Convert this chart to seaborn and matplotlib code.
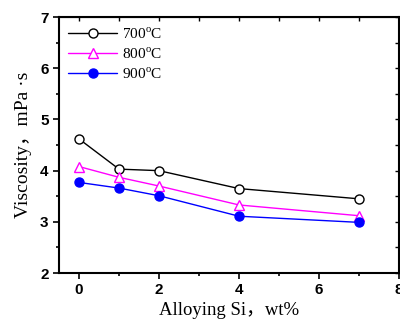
import matplotlib
matplotlib.use("Agg")
import matplotlib.pyplot as plt
import seaborn as sns
import pandas as pd
from matplotlib.ticker import MultipleLocator

si = [0, 1, 2, 4, 7]
v700 = [4.62, 4.03, 4.00, 3.65, 3.45]
v800 = [4.08, 3.87, 3.70, 3.33, 3.12]
v900 = [3.77, 3.66, 3.51, 3.11, 2.99]
labels = ["700$^{\\rm o}$C", "800$^{\\rm o}$C", "900$^{\\rm o}$C"]

sns.set_style("ticks")
plt.rcParams['font.family'] = ['Liberation Serif', 'Noto Sans CJK SC']
plt.rcParams['mathtext.fontset'] = 'custom'
plt.rcParams['mathtext.rm'] = 'Liberation Serif'
plt.rcParams['text.color'] = 'black'
plt.rcParams['axes.labelcolor'] = 'black'
plt.rcParams['xtick.color'] = 'black'
plt.rcParams['ytick.color'] = 'black'
plt.rcParams['axes.edgecolor'] = 'black'

fig = plt.figure(figsize=(4, 3.22), dpi=100)
ax = fig.add_axes([0.1475, 0.152, 0.85, 0.795])

styles = [
    dict(color="black", marker="o", mfc="white", mec="black"),
    dict(color="#ff00ff", marker="^", mfc="white", mec="#ff00ff"),
    dict(color="blue", marker="o", mfc="blue", mec="blue"),
]
for vals, lab, st in zip([v700, v800, v900], labels, styles):
    df = pd.DataFrame({"x": si, "y": vals})
    sns.lineplot(data=df, x="x", y="y", ax=ax, label=lab, color=st["color"],
                 marker=st["marker"], markerfacecolor=st["mfc"],
                 markeredgecolor=st["mec"], markersize=6.5, markeredgewidth=1.0,
                 linewidth=1.0)

ax.set_xlim(-0.5, 8)
ax.set_ylim(2, 7)
ax.xaxis.set_major_locator(MultipleLocator(2))
ax.xaxis.set_minor_locator(MultipleLocator(1))
ax.yaxis.set_major_locator(MultipleLocator(1))
ax.yaxis.set_minor_locator(MultipleLocator(0.5))
ax.tick_params(which="both", direction="out", width=1.2, top=False, right=False)
ax.tick_params(which="major", length=4)
ax.tick_params(which="minor", length=2.5)
for lbl in ax.get_xticklabels() + ax.get_yticklabels():
    lbl.set_fontfamily("Liberation Sans")
    lbl.set_fontweight("bold")
    lbl.set_fontsize(11)
for s in ax.spines.values():
    s.set_linewidth(1.5)

ax2 = ax.secondary_xaxis("top")
ax2.xaxis.set_major_locator(MultipleLocator(1))
ax2.tick_params(direction="in", length=3, labeltop=False, width=1)
ay2 = ax.secondary_yaxis("right")
ay2.yaxis.set_major_locator(MultipleLocator(0.5))
ay2.tick_params(direction="in", length=3, labelright=False, width=1)

ax.set_xlabel("Alloying Si，wt%", fontsize=13.5, labelpad=3)
ax.set_ylabel("Viscosity，mPa ·s", fontsize=14, labelpad=6)

leg = ax.legend(loc="upper left", frameon=False, fontsize=11,
                handlelength=3.2, borderaxespad=0.2, labelspacing=0.3,
                handletextpad=0.3)

fig.savefig("out.png", dpi=100)
